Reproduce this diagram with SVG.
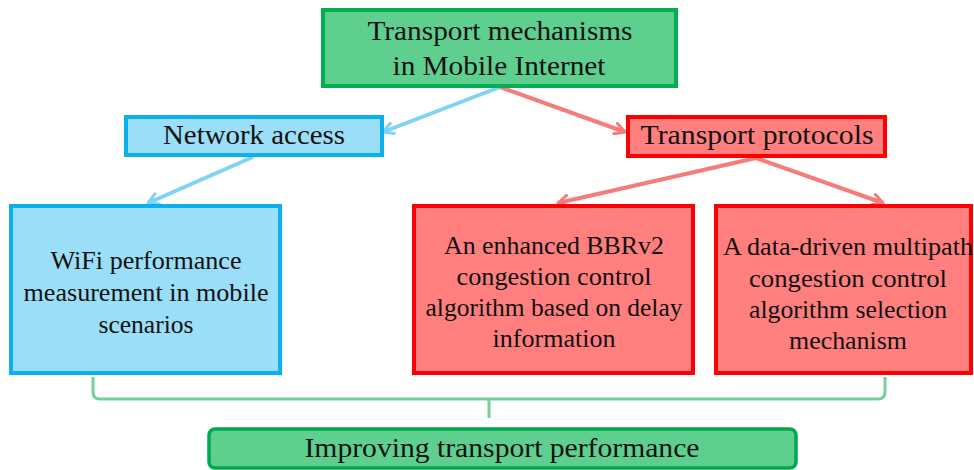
<svg xmlns="http://www.w3.org/2000/svg" width="974" height="470" viewBox="0 0 974 470">
<style>
text{font-family:"Liberation Serif","Times New Roman",serif;fill:#111;text-anchor:middle}
.t1{font-size:27px}
.t2{font-size:25px}
.green{fill:#5ECF8F;stroke:#00B050;stroke-width:4}
.blue{fill:#9BDEF7;stroke:#0DB0EE;stroke-width:4}
.red{fill:#FF7F7F;stroke:#FF0000;stroke-width:4}
.cb{stroke:#7FD3F3;stroke-width:4;fill:none;marker-end:url(#ab)}
.cr{stroke:#F77B7B;stroke-width:4;fill:none;marker-end:url(#ar)}
.br{stroke:#74D19A;stroke-width:3;fill:none}
</style>
<defs>
<marker id="ab" viewBox="0 0 14 14" refX="12" refY="7" markerWidth="14" markerHeight="14" markerUnits="userSpaceOnUse" orient="auto">
<path d="M2,1.5 L12,7 L2,12.5" fill="none" stroke="#7FD3F3" stroke-width="3" stroke-linecap="round" stroke-linejoin="round"/>
</marker>
<marker id="ar" viewBox="0 0 14 14" refX="12" refY="7" markerWidth="14" markerHeight="14" markerUnits="userSpaceOnUse" orient="auto">
<path d="M2,1.5 L12,7 L2,12.5" fill="none" stroke="#F77B7B" stroke-width="3" stroke-linecap="round" stroke-linejoin="round"/>
</marker>
</defs>
<g id="connectors">
<path class="cb" d="M500,87 L383,132"/>
<path class="cr" d="M500,87 L625,132"/>
<path class="cb" d="M253,157 L148,203"/>
<path class="cr" d="M756,158 L558,203"/>
<path class="cr" d="M756,158 L883,203"/>
<path class="br" d="M93,377 V392 Q93,399 100,399 H878 Q885,399 885,392 V377"/>
<path class="br" d="M489,399 V418"/>
</g>
<g id="node-root">
<rect class="green" x="323" y="10" width="353" height="76"/>
<text class="t1" x="500" y="40" textLength="265" lengthAdjust="spacingAndGlyphs">Transport mechanisms</text>
<text class="t1" x="499" y="75" textLength="213" lengthAdjust="spacingAndGlyphs">in Mobile Internet</text>
</g>
<g id="node-network">
<rect class="blue" x="126" y="117" width="256" height="38"/>
<text class="t1" x="254" y="144" textLength="182" lengthAdjust="spacingAndGlyphs">Network access</text>
</g>
<g id="node-transport">
<rect class="red" x="628" y="117" width="257" height="39"/>
<text class="t1" x="757" y="144" textLength="233" lengthAdjust="spacingAndGlyphs">Transport protocols</text>
</g>
<g id="node-wifi">
<rect class="blue" x="11" y="206" width="269" height="167"/>
<text class="t2" x="146" y="269" textLength="191" lengthAdjust="spacingAndGlyphs">WiFi performance</text>
<text class="t2" x="146" y="301" textLength="245" lengthAdjust="spacingAndGlyphs">measurement in mobile</text>
<text class="t2" x="146" y="333" textLength="95" lengthAdjust="spacingAndGlyphs">scenarios</text>
</g>
<g id="node-bbr">
<rect class="red" x="414" y="206" width="279" height="167"/>
<text class="t2" x="554" y="254" textLength="220" lengthAdjust="spacingAndGlyphs">An enhanced BBRv2</text>
<text class="t2" x="554" y="285" textLength="195" lengthAdjust="spacingAndGlyphs">congestion control</text>
<text class="t2" x="554" y="316" textLength="257" lengthAdjust="spacingAndGlyphs">algorithm based on delay</text>
<text class="t2" x="554" y="347" textLength="123" lengthAdjust="spacingAndGlyphs">information</text>
</g>
<g id="node-multipath">
<rect class="red" x="716" y="206" width="255" height="167"/>
<text class="t2" x="848" y="255" textLength="250" lengthAdjust="spacingAndGlyphs">A data-driven multipath</text>
<text class="t2" x="848" y="287" textLength="198" lengthAdjust="spacingAndGlyphs">congestion control</text>
<text class="t2" x="848" y="318" textLength="198" lengthAdjust="spacingAndGlyphs">algorithm selection</text>
<text class="t2" x="848" y="349" textLength="118" lengthAdjust="spacingAndGlyphs">mechanism</text>
</g>
<g id="node-result">
<rect x="209" y="429" width="587" height="39" rx="6" ry="6" fill="#5ECF8F" stroke="#00A850" stroke-width="3.5"/>
<text class="t1" x="502" y="457" textLength="395" lengthAdjust="spacingAndGlyphs">Improving transport performance</text>
</g>
</svg>
